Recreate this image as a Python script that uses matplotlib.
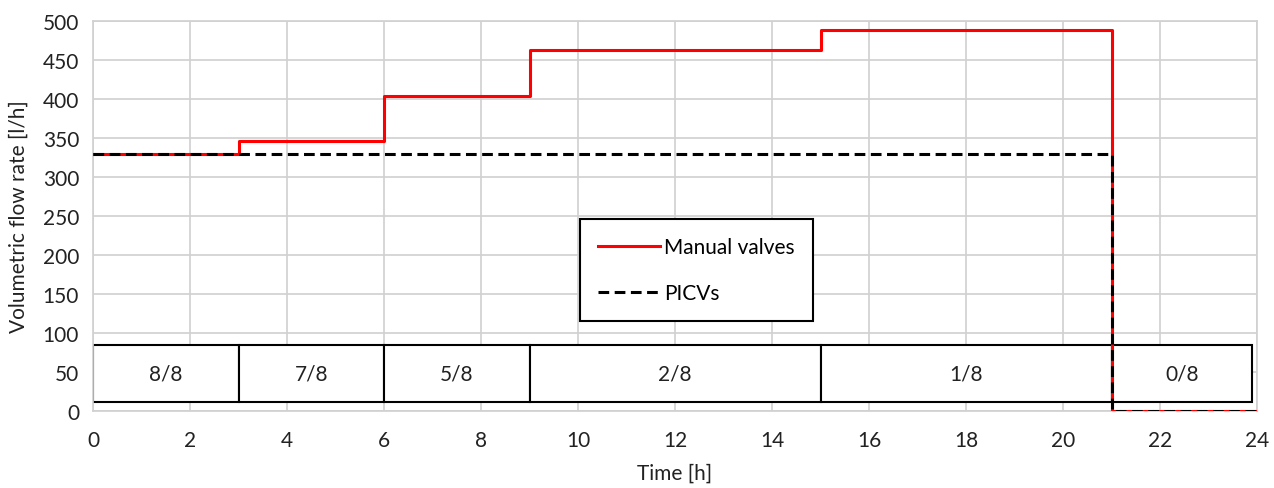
import matplotlib.pyplot as plt
from matplotlib.patches import Rectangle

plt.rcParams['font.family'] = ['Lato', 'DejaVu Sans']

# stepped flow data (value holds until next time)
t_steps = [0, 3, 6, 9, 15, 21, 24]
manual = [330, 346, 404, 463, 489, 0, 0]
picv = [330, 330, 330, 330, 330, 0, 0]

# open-valve fraction boxes
box_start = [0, 3, 6, 9, 15, 21]
box_end = [3, 6, 9, 15, 21, 23.9]
box_label = ['8/8', '7/8', '5/8', '2/8', '1/8', '0/8']
box_low, box_high = 12, 85

fig = plt.figure(figsize=(12.74, 4.89), dpi=100)
ax = fig.add_axes([0.073, 0.1575, 0.9137, 0.7975])

ax.step(t_steps, manual, where='post', color='#ff0000', lw=2.2, label='Manual valves', zorder=3)
ax.step(t_steps, picv, where='post', color='black', lw=2.2, ls=(0, (3.5, 1.8)), label='PICVs', zorder=4)

for s, e, lab in zip(box_start, box_end, box_label):
    ax.add_patch(Rectangle((s, box_low), e - s, box_high - box_low, facecolor='white',
                           edgecolor='black', lw=1.5, zorder=2))
    ax.text((s + e) / 2, (box_low + box_high) / 2, lab, ha='center', va='center',
            fontsize=15, color='#222222', zorder=5)

ax.set_xlim(0, 24)
ax.set_ylim(0, 500)
ax.set_xticks(range(0, 25, 2))
ax.set_yticks(range(0, 501, 50))
ax.grid(True, color='#d0d0d0', lw=1.2)
ax.set_axisbelow(True)
for sp in ax.spines.values():
    sp.set_color('#d0d0d0')
    sp.set_linewidth(1.2)
ax.tick_params(length=0, labelsize=15, colors='#222222')
ax.tick_params(axis='x', pad=14)
ax.tick_params(axis='y', pad=10)
ax.set_xlabel('Time [h]', fontsize=15, color='#222222', labelpad=9)
ax.set_ylabel('Volumetric flow rate [l/h]', fontsize=15, color='#222222', labelpad=10)

leg = ax.legend(loc='upper left', bbox_to_anchor=(10.04 / 24, 246 / 500), fontsize=15,
                frameon=True, fancybox=False, edgecolor='black', framealpha=1,
                handlelength=3.0, handletextpad=0.2, labelspacing=1.25,
                borderpad=0.85, borderaxespad=0)
leg.get_frame().set_linewidth(1.5)
leg.set_zorder(6)

fig.savefig('out.png', dpi=100)
